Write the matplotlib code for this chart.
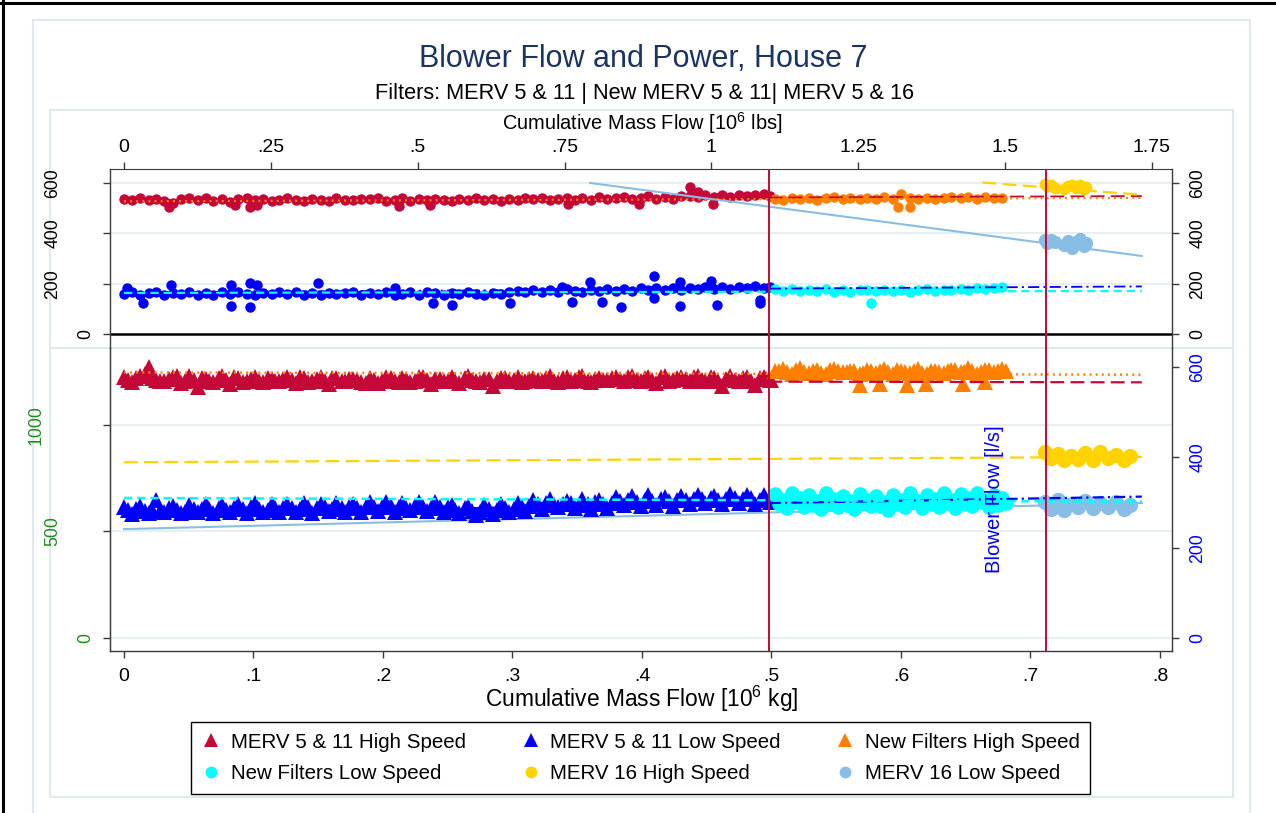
import matplotlib
matplotlib.use("Agg")
import matplotlib.pyplot as plt
from matplotlib.lines import Line2D
from matplotlib.patches import Rectangle
import matplotlib.transforms as mtransforms

plt.rcParams['font.family'] = ['Liberation Sans', 'DejaVu Sans']
plt.rcParams['mathtext.fontset'] = 'custom'
plt.rcParams['mathtext.rm'] = 'Liberation Sans'
plt.rcParams['mathtext.it'] = 'Liberation Sans'
plt.rcParams['mathtext.default'] = 'regular'
plt.rcParams['lines.scale_dashes'] = False

# ---------------- data ----------------
series_labels = ["MERV 5 & 11 High Speed", "MERV 5 & 11 Low Speed", "New Filters High Speed",
                 "New Filters Low Speed", "MERV 16 High Speed", "MERV 16 Low Speed"]
series_colors = ['#c40838', '#0000ff', '#ff7f00', '#00ffff', '#ffd200', '#88bde6']

# cumulative mass flow [10^6 kg]
x_merv511 = [0.000, 0.006, 0.012, 0.019, 0.025, 0.031, 0.038, 0.044, 0.050, 0.057,
             0.063, 0.069, 0.076, 0.082, 0.088, 0.095, 0.101, 0.107, 0.114, 0.120,
             0.126, 0.133, 0.139, 0.145, 0.152, 0.158, 0.164, 0.171, 0.177, 0.183,
             0.190, 0.196, 0.202, 0.209, 0.215, 0.221, 0.228, 0.234, 0.240, 0.247,
             0.253, 0.259, 0.266, 0.272, 0.278, 0.285, 0.291, 0.297, 0.304, 0.310,
             0.316, 0.323, 0.329, 0.335, 0.342, 0.348, 0.354, 0.361, 0.367, 0.373,
             0.380, 0.386, 0.392, 0.399, 0.405, 0.411, 0.418, 0.424, 0.430, 0.437,
             0.443, 0.449, 0.456, 0.462, 0.468, 0.475, 0.481, 0.487, 0.494, 0.499]
x_merv511_2 = [0.003, 0.009, 0.016, 0.022, 0.028, 0.035, 0.041, 0.047, 0.054, 0.060,
               0.066, 0.073, 0.079, 0.085, 0.092, 0.098, 0.104, 0.111, 0.117, 0.123,
               0.130, 0.136, 0.142, 0.149, 0.155, 0.161, 0.168, 0.174, 0.180, 0.187,
               0.193, 0.199, 0.206, 0.212, 0.218, 0.225, 0.231, 0.237, 0.244, 0.250,
               0.256, 0.263, 0.269, 0.275, 0.282, 0.288, 0.294, 0.301, 0.307, 0.313,
               0.320, 0.326, 0.332, 0.339, 0.345, 0.351, 0.358, 0.364, 0.370, 0.377,
               0.383, 0.389, 0.396, 0.402, 0.408, 0.415, 0.421, 0.427, 0.434, 0.440,
               0.446, 0.453, 0.459, 0.465, 0.472, 0.478, 0.484, 0.491, 0.496, 0.500]
x_new = [0.503, 0.509, 0.516, 0.522, 0.529, 0.535, 0.542, 0.548, 0.555, 0.561,
         0.568, 0.574, 0.581, 0.587, 0.594, 0.600, 0.607, 0.613, 0.620, 0.626,
         0.633, 0.639, 0.646, 0.652, 0.659, 0.665, 0.672, 0.678]
x_new_2 = [0.506, 0.512, 0.519, 0.525, 0.532, 0.538, 0.545, 0.551, 0.558, 0.564,
           0.571, 0.577, 0.584, 0.590, 0.597, 0.603, 0.610, 0.616, 0.623, 0.629,
           0.636, 0.642, 0.649, 0.655, 0.662, 0.668, 0.675, 0.681]
x_m16_power = [0.711, 0.713, 0.716, 0.719, 0.726, 0.729, 0.732, 0.735, 0.738, 0.741, 0.743]
x_m16_flow = [0.711, 0.716, 0.721, 0.726, 0.731, 0.737, 0.742, 0.748, 0.754, 0.760, 0.766, 0.772, 0.777]
period_breaks = [0.498, 0.712]

# blower power [W] (top panel)
pw_hi_511 = [537, 532, 540, 533, 538, 529, 520, 535, 539, 532,
             540, 530, 537, 526, 535, 539, 531, 537, 529, 534,
             539, 533, 530, 538, 532, 528, 539, 533, 531, 537,
             535, 540, 530, 534, 539, 527, 536, 531, 538, 533,
             530, 537, 533, 539, 531, 536, 529, 537, 533, 540,
             535, 541, 533, 538, 542, 534, 540, 533, 543, 536,
             539, 544, 535, 542, 547, 538, 544, 537, 548, 549,
             543, 551, 545, 553, 546, 554, 547, 551, 555, 548]
pw_hi_511_out_x = [0.035, 0.086, 0.097, 0.103, 0.212, 0.236, 0.343, 0.398, 0.437, 0.443, 0.455]
pw_hi_511_out_y = [505, 512, 505, 512, 508, 512, 516, 516, 584, 566, 516]
pw_lo_511 = [158, 165, 153, 161, 166, 155, 162, 157, 167, 156,
             161, 154, 165, 158, 166, 160, 153, 163, 157, 165,
             159, 166, 155, 162, 154, 164, 158, 161, 167, 156,
             162, 157, 166, 153, 160, 165, 156, 168, 161, 155,
             163, 157, 166, 159, 155, 164, 158, 167, 170, 165,
             173, 166, 175, 168, 177, 170, 166, 176, 169, 178,
             172, 180, 171, 182, 175, 181, 173, 184, 176, 183,
             178, 186, 177, 188, 179, 185, 181, 189, 182, 187]
pw_lo_511_out_x = [0.002, 0.036, 0.015, 0.083, 0.083, 0.097, 0.097, 0.103, 0.150, 0.209,
                   0.239, 0.253, 0.298, 0.338, 0.346, 0.360, 0.369, 0.384, 0.409, 0.409,
                   0.429, 0.429, 0.453, 0.458, 0.491, 0.491]
pw_lo_511_out_y = [183, 195, 123, 195, 111, 203, 107, 195, 203, 183,
                   123, 115, 123, 187, 127, 207, 127, 107, 230, 143,
                   111, 207, 211, 115, 123, 135]
pw_hi_new = [538, 532, 541, 536, 540, 534, 539, 543, 537, 541, 535, 540, 538, 544,
             536, 556, 540, 537, 542, 536, 540, 545, 539, 543, 538, 544, 540, 542]
pw_hi_new_out_x = [0.598, 0.607]
pw_hi_new_out_y = [504, 504]
pw_lo_new = [178, 171, 177, 169, 175, 170, 178, 168, 174, 167, 173, 176, 169, 175,
             170, 174, 168, 173, 177, 171, 176, 173, 179, 175, 181, 177, 183, 186]
pw_lo_new_out_x = [0.577]
pw_lo_new_out_y = [123]
pw_hi_m16 = [594, 586, 590, 580, 575, 588, 593, 582, 590, 578, 585]
pw_lo_m16 = [372, 362, 375, 366, 352, 370, 340, 364, 376, 350, 362]

# blower flow [l/s] (bottom panel)
fl_hi_511 = [578, 566, 580, 600, 572, 568, 577, 565, 579, 556,
             574, 567, 579, 562, 576, 569, 578, 566, 573, 570,
             577, 565, 575, 569, 578, 563, 576, 570, 574, 567,
             576, 564, 578, 569, 575, 566, 577, 571, 573, 568,
             577, 565, 579, 570, 574, 557, 576, 568, 578, 569,
             575, 570, 579, 566, 577, 571, 580, 567, 576, 572,
             578, 569, 580, 570, 577, 565, 581, 571, 578, 569,
             579, 568, 576, 558, 580, 570, 577, 559, 578, 571]
fl_hi_511_2 = [571, 575, 584, 576, 569, 574, 580, 570, 572, 576,
               569, 575, 571, 577, 566, 573, 570, 576, 568, 574,
               571, 578, 566, 573, 570, 576, 568, 574, 571, 565,
               572, 569, 575, 566, 573, 570, 577, 563, 574, 570,
               568, 575, 571, 566, 573, 569, 576, 571, 567, 574,
               571, 576, 568, 575, 570, 577, 569, 574, 571, 576,
               573, 577, 571, 576, 572, 578, 569, 575, 573, 577,
               572, 578, 569, 574, 571, 576, 570, 575, 573, 572]
fl_lo_511 = [290, 274, 293, 277, 306, 279, 292, 276, 294, 278,
             296, 277, 295, 279, 297, 276, 298, 280, 296, 278,
             297, 279, 299, 277, 296, 281, 298, 278, 297, 280,
             300, 282, 302, 280, 299, 283, 301, 281, 300, 279,
             295, 276, 293, 272, 294, 275, 296, 278, 299, 282,
             305, 286, 307, 289, 304, 287, 308, 285, 306, 288,
             313, 294, 315, 292, 316, 295, 312, 293, 314, 296,
             317, 298, 315, 297, 318, 299, 316, 296, 317, 300]
fl_lo_511_2 = [283, 286, 281, 284, 282, 287, 283, 280, 285, 286,
               286, 288, 284, 287, 285, 289, 286, 283, 288, 287,
               288, 286, 290, 287, 289, 285, 288, 291, 287, 289,
               291, 289, 293, 290, 288, 292, 290, 287, 291, 289,
               284, 287, 282, 280, 286, 283, 288, 285, 289, 293,
               296, 298, 294, 297, 299, 295, 297, 300, 296, 299,
               303, 306, 302, 305, 304, 307, 303, 306, 305, 307,
               307, 309, 306, 308, 310, 307, 309, 306, 308, 310]
fl_hi_new = [590, 596, 584, 597, 587, 593, 585, 596, 588, 591, 584, 594, 586, 595,
             585, 592, 587, 596, 584, 590, 586, 594, 588, 597, 585, 593, 589, 595]
fl_hi_new_2 = [592, 588, 594, 589, 591, 586, 593, 590, 589, 592, 587, 591, 590, 588,
               593, 589, 591, 587, 592, 589, 590, 593, 588, 591, 589, 594, 590, 592]
fl_hi_new_out_x = [0.568, 0.584, 0.605, 0.619, 0.648, 0.665]
fl_hi_new_out_y = [560, 562, 560, 563, 562, 566]
fl_lo_new = [318, 306, 321, 309, 316, 304, 320, 307, 315, 303, 319, 306, 314, 302,
             317, 305, 321, 304, 316, 308, 320, 305, 318, 309, 322, 306, 316, 311]
fl_lo_new_2 = [296, 288, 300, 291, 294, 286, 299, 290, 295, 285, 298, 292, 293, 284,
               297, 289, 301, 287, 296, 291, 299, 288, 297, 293, 302, 290, 295, 298]
fl_hi_m16 = [412, 398, 407, 393, 404, 396, 409, 395, 411, 399, 405, 394, 402]
fl_lo_m16 = [300, 286, 305, 284, 297, 290, 303, 287, 298, 289, 302, 285, 294]

# fitted lines (end points)
fit_x_full = [0.0, 0.786]
fit_pw_hi_511 = [532, 548]
fit_pw_hi_new = [527, 541]
fit_pw_lo_511 = [165, 189]
fit_pw_lo_new = [163, 171]
fit_pw_hi_m16_x = [0.663, 0.786]
fit_pw_hi_m16 = [602, 553]
fit_pw_lo_m16_x = [0.360, 0.786]
fit_pw_lo_m16 = [600, 310]
fit_fl_hi_511 = [570, 566]
fit_fl_hi_new = [588, 583]
fit_fl_lo_511 = [274, 313]
fit_fl_lo_new = [310, 302]
fit_fl_hi_m16 = [389, 401]
fit_fl_lo_m16 = [241, 299]

# axis ticks
lb_ticks = [0, 0.25, 0.5, 0.75, 1, 1.25, 1.5, 1.75]
lb_labels = ['0', '.25', '.5', '.75', '1', '1.25', '1.5', '1.75']
kg_ticks = [0, 0.1, 0.2, 0.3, 0.4, 0.5, 0.6, 0.7, 0.8]
kg_labels = ['0', '.1', '.2', '.3', '.4', '.5', '.6', '.7', '.8']
pw_ticks = [0, 200, 400, 600]
lps_ticks = [0, 200, 400, 600]
cfm_ticks = [0, 500, 1000]

KG2LB = 1 / 0.45359237
LPS2CFM = 2.11888

# ---------------- figure ----------------
W, H = 1276.0, 813.0
fig = plt.figure(figsize=(W / 100, H / 100), dpi=100)
fig.patch.set_facecolor('white')


def fx(p):
    return p / W


def fy(p):
    return 1.0 - p / H


light = '#e1e9ed'
deco = []
deco.append(Line2D([fx(3), fx(3)], [0, 1], color='black', lw=2.2, transform=fig.transFigure))
deco.append(Line2D([0, 1], [fy(3), fy(3)], color='black', lw=2.2, transform=fig.transFigure))
deco.append(Rectangle((fx(33), fy(830)), fx(1250) - fx(33), (830 - 20) / H, fill=False,
                      ec=light, lw=1.5, transform=fig.transFigure))
deco.append(Rectangle((fx(50), fy(797)), fx(1233) - fx(50), (797 - 110) / H, fill=False,
                      ec=light, lw=1.5, transform=fig.transFigure))
deco.append(Line2D([fx(50), fx(1233)], [fy(348), fy(348)], color=light, lw=1.5,
                   transform=fig.transFigure))
for a in deco:
    a.set_zorder(-10)
    fig.add_artist(a)

XL, XR = 110, 1172
axT = fig.add_axes([fx(XL), fy(348), fx(XR) - fx(XL), (348 - 169) / H])
axB = fig.add_axes([fx(XL), fy(651), fx(XR) - fx(XL), (651 - 348) / H])

xlim = (-0.0108, 0.8093)
spc = '#3a3a3a'
for ax in (axT, axB):
    ax.set_xlim(*xlim)
    ax.patch.set_alpha(0)
    for s in ax.spines.values():
        s.set_color(spc)
        s.set_linewidth(1.0)

axT.set_ylim(-55.6, 655.5)
axB.set_ylim(-28.8, 642.0)

# grid lines
for v in pw_ticks[1:]:
    axT.axhline(v, color='#e6eef0', lw=1.3, zorder=0)
for c in cfm_ticks:
    axB.axhline(c / LPS2CFM, color='#e6eef0', lw=1.3, zorder=0)

# ---- top panel: power ----
axT.spines['bottom'].set_visible(False)
axT.spines['top'].set_visible(False)
axT.tick_params(axis='x', bottom=False, top=False, labelbottom=False, labeltop=False)
axT.set_yticks(pw_ticks)
axT.tick_params(axis='y', left=True, right=True, labelleft=False, labelright=True,
                direction='out', length=5, width=1, color=spc, labelsize=12.7, pad=7.5,
                labelrotation=90)
for t in axT.yaxis.get_major_ticks():
    t.label2.set_verticalalignment('center')
axT.axhline(0, color='black', lw=1.8, zorder=2)

secT = axT.secondary_xaxis('top', functions=(lambda k: k * KG2LB, lambda l: l / KG2LB))
secT.set_xticks(lb_ticks)
secT.set_xticklabels(lb_labels)
secT.tick_params(direction='out', length=5, width=1, color=spc, pad=4, labelsize=14)
secT.spines['top'].set_color(spc)

ms_top = 7.5
mk = dict(ls='none', mew=0, zorder=3)
axT.plot(x_merv511 + pw_hi_511_out_x, pw_hi_511 + pw_hi_511_out_y, marker='o', ms=ms_top,
         color=series_colors[0], **mk)
axT.plot(x_merv511 + pw_lo_511_out_x, pw_lo_511 + pw_lo_511_out_y, marker='o', ms=ms_top,
         color=series_colors[1], **mk)
axT.plot(x_new + pw_hi_new_out_x, pw_hi_new + pw_hi_new_out_y, marker='o', ms=ms_top,
         color=series_colors[2], **mk)
axT.plot(x_new + pw_lo_new_out_x, pw_lo_new + pw_lo_new_out_y, marker='o', ms=ms_top,
         color=series_colors[3], **mk)
axT.plot(x_m16_power, pw_hi_m16, marker='o', ms=ms_top + 1, color=series_colors[4], **mk)
axT.plot(x_m16_power, pw_lo_m16, marker='o', ms=ms_top + 2, color=series_colors[5], **mk)

dash_long = (0, (10, 4.5))
dash_short = (0, (6, 3.5))
dotted = (0, (1.4, 3.0))
dashdot = (0, (8, 3, 1.5, 3))
flw = 1.3
axT.plot(fit_x_full, fit_pw_hi_511, color=series_colors[0], lw=flw, ls=dash_long, zorder=4)
axT.plot(fit_x_full, fit_pw_hi_new, color=series_colors[2], lw=flw + 0.3, ls=dotted, zorder=4)
axT.plot(fit_x_full, fit_pw_lo_511, color=series_colors[1], lw=flw, ls=dashdot, zorder=4)
axT.plot(fit_x_full, fit_pw_lo_new, color=series_colors[3], lw=flw + 0.3, ls=dash_short, zorder=4)
axT.plot(fit_pw_hi_m16_x, fit_pw_hi_m16, color=series_colors[4], lw=flw + 0.3, ls=dash_long, zorder=4)
axT.plot(fit_pw_lo_m16_x, fit_pw_lo_m16, color=series_colors[5], lw=flw + 0.2, ls='-', zorder=4)

# ---- bottom panel: flow ----
axB.spines['top'].set_visible(False)
axB.set_xticks(kg_ticks)
axB.set_xticklabels(kg_labels)
axB.tick_params(axis='x', direction='out', length=5, width=1, color=spc, pad=7, labelsize=14)
axB.set_yticks(lps_ticks)
axB.tick_params(axis='y', left=False, right=True, labelleft=False, labelright=True,
                direction='out', length=5, width=1, color=spc, labelsize=12.7, pad=7.5,
                labelcolor='#0000ff', labelrotation=90)
for t in axB.yaxis.get_major_ticks():
    t.label2.set_verticalalignment('center')

secB = axB.secondary_yaxis('left', functions=(lambda v: v * LPS2CFM, lambda c: c / LPS2CFM))
secB.set_yticks(cfm_ticks)
secB.tick_params(direction='out', length=5, width=1, color=spc, labelleft=False)
secB.spines['left'].set_color(spc)

ms_tri = 11.0
ms_cir = 10.5
axB.plot(x_merv511 + x_merv511_2, fl_hi_511 + fl_hi_511_2, marker='^', ms=ms_tri,
         color=series_colors[0], **mk)
axB.plot(x_merv511 + x_merv511_2, fl_lo_511 + fl_lo_511_2, marker='^', ms=ms_tri,
         color=series_colors[1], **mk)
axB.plot(x_new + x_new_2 + fl_hi_new_out_x, fl_hi_new + fl_hi_new_2 + fl_hi_new_out_y,
         marker='^', ms=ms_tri, color=series_colors[2], **mk)
axB.plot(x_new + x_new_2, fl_lo_new + fl_lo_new_2, marker='o', ms=ms_cir,
         color=series_colors[3], **mk)
axB.plot(x_m16_flow, fl_hi_m16, marker='o', ms=ms_cir + 0.5, color=series_colors[4], **mk)
axB.plot(x_m16_flow, fl_lo_m16, marker='o', ms=ms_cir + 0.5, color=series_colors[5], **mk)

axB.plot(fit_x_full, fit_fl_hi_511, color=series_colors[0], lw=flw + 0.3, ls=dash_long, zorder=4)
axB.plot(fit_x_full, fit_fl_hi_new, color=series_colors[2], lw=flw + 0.5, ls=dotted, zorder=4)
axB.plot(fit_x_full, fit_fl_lo_511, color=series_colors[1], lw=flw + 0.3, ls=dashdot, zorder=4)
axB.plot(fit_x_full, fit_fl_lo_new, color=series_colors[3], lw=flw + 0.5, ls=dash_short, zorder=4)
axB.plot(fit_x_full, fit_fl_hi_m16, color=series_colors[4], lw=flw + 0.3, ls=dash_long, zorder=4)
axB.plot(fit_x_full, fit_fl_lo_m16, color=series_colors[5], lw=flw + 0.2, ls='-', zorder=2.5)

# period boundaries
for ax in (axT, axB):
    for xb in period_breaks:
        ax.axvline(xb, color='#c40838', lw=1.4, zorder=5)

# left tick labels (Stata-like placement)
trT = mtransforms.blended_transform_factory(fig.transFigure, axT.transData)
for v in pw_ticks:
    s = str(v)
    axT.text(fx(86 - 16.5 * (len(s) - 1)), v, s, transform=trT, rotation=90, ha='center',
             va='center', fontsize=12.7, color='black', clip_on=False)
trB = mtransforms.blended_transform_factory(fig.transFigure, axB.transData)
for c in cfm_ticks:
    s = str(c)
    axB.text(fx(86 - 16.5 * (len(s) - 1)), c / LPS2CFM, s, transform=trB, rotation=90,
             ha='center', va='center', fontsize=12.7, color='#1e8c1e', clip_on=False)

# titles
fig.text(fx(643), fy(67), 'Blower Flow and Power, House 7', ha='center', va='baseline',
         fontsize=22, color='#1c3463')
fig.text(fx(645), fy(99), 'Filters: MERV 5 & 11 | New MERV 5 & 11| MERV 5 & 16', ha='center',
         va='baseline', fontsize=15.7, color='black')
fig.text(fx(642), fy(123), 'Cumulative Mass Flow [10$^{6}$ lbs]', ha='center', va='center',
         fontsize=14.4)
fig.text(fx(642), fy(707), 'Cumulative Mass Flow [10$^{6}$ kg]', ha='center', va='baseline',
         fontsize=16.4)
fig.text(fx(994), fy(499), 'Blower Flow [l/s]', rotation=90, ha='center', va='center',
         fontsize=14.6, color='#0000ff', zorder=10)

# legend
markers = ['^', '^', '^', 'o', 'o', 'o']
handles = [Line2D([], [], ls='none', marker=m, ms=(10 if m == '^' else 8.5), mew=0, color=c)
           for m, c in zip(markers, series_colors)]
order = [0, 3, 1, 4, 2, 5]
leg = fig.legend([handles[i] for i in order], [series_labels[i] for i in order], ncol=3,
                 loc='center', bbox_to_anchor=(fx(640.5), fy(758)), frameon=True,
                 fancybox=False, edgecolor='black', framealpha=1, fontsize=14.8,
                 handlelength=1.0, handletextpad=0.45, columnspacing=2.65, labelspacing=0.62,
                 borderpad=0.5)
leg.get_frame().set_linewidth(1.0)

fig.savefig('out.png', dpi=100)
